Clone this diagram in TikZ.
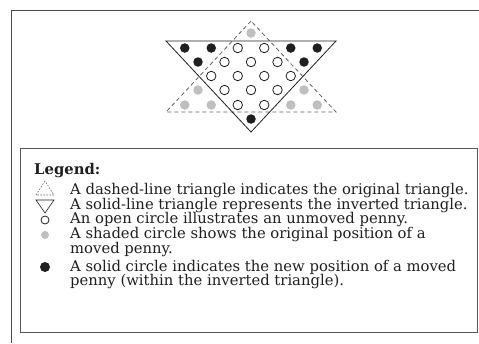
\documentclass[tikz,border=0pt]{standalone}
\usepackage{fontspec}
\setmainfont{DejaVu Serif}
\definecolor{shade}{gray}{0.75}
\definecolor{ink}{gray}{0.12}
\tikzset{
  coin/.style={circle,inner sep=0pt,minimum size=9.5pt},
  open/.style={coin,draw=ink,line width=0.8pt,fill=white},
  gone/.style={coin,fill=shade},
  moved/.style={coin,fill=ink},
  legtext/.style={anchor=west,inner sep=0pt,text=ink,font=\fontsize{14.8}{15}\selectfont}
}
\begin{document}
\begin{tikzpicture}[x=1pt,y=-1pt]
\useasboundingbox (0,0) rectangle (479,343);
% frame
\coordinate (tl) at (11,10);
\coordinate (tr) at (479,10);
\coordinate (bl) at (11,343);
\draw[ink!80,line width=0.9pt] (tr) -- (tl) -- (bl);
% triangles
\coordinate (d1) at (251,21);
\coordinate (d2) at (166,112);
\coordinate (d3) at (336,112);
\coordinate (s1) at (166,41);
\coordinate (s2) at (336,41);
\coordinate (s3) at (251,132);
\draw[ink!70,dashed,dash pattern=on 4pt off 3pt,line width=0.8pt] (d1) -- (d2) -- (d3) -- cycle;
\draw[ink,line width=0.8pt] (s1) -- (s2) -- (s3) -- cycle;
% pennies
\node[gone] (a) at (251,33) {};
\node[moved] (r11) at (184.75,48) {};
\node[moved] (r12) at (211.25,48) {};
\node[open] (r13) at (237.75,48) {};
\node[open] (r14) at (264.25,48) {};
\node[moved] (r15) at (290.75,48) {};
\node[moved] (r16) at (317.25,48) {};
\node[moved] (r21) at (198,62) {};
\node[open] (r22) at (224.5,62) {};
\node[open] (r23) at (251,62) {};
\node[open] (r24) at (277.5,62) {};
\node[moved] (r25) at (304,62) {};
\node[open] (r31) at (211.25,76) {};
\node[open] (r32) at (237.75,76) {};
\node[open] (r33) at (264.25,76) {};
\node[open] (r34) at (290.75,76) {};
\node[gone] (r41) at (198,90) {};
\node[open] (r42) at (224.5,90) {};
\node[open] (r43) at (251,90) {};
\node[open] (r44) at (277.5,90) {};
\node[gone] (r45) at (304,90) {};
\node[gone] (r51) at (184.75,105) {};
\node[gone] (r52) at (211.25,105) {};
\node[open] (r53) at (237.75,105) {};
\node[open] (r54) at (264.25,105) {};
\node[gone] (r55) at (290.75,105) {};
\node[gone] (r56) at (317.25,105) {};
\node[moved] (b) at (251,119) {};
% legend
\coordinate (ltl) at (20,148);
\coordinate (lbr) at (477,332);
\draw[ink!75,line width=0.9pt] (ltl) rectangle (lbr);
\node[legtext,font=\fontsize{14.8}{15}\selectfont\bfseries] (title) at (34,171) {Legend:};
\coordinate (k1a) at (45,181);
\coordinate (k1b) at (36,195);
\coordinate (k1c) at (54,195);
\draw[ink!70,dashed,dash pattern=on 1.5pt off 1.5pt,line width=0.6pt] (k1a) -- (k1b) -- (k1c) -- cycle;
\coordinate (k2a) at (36,200);
\coordinate (k2b) at (54,200);
\coordinate (k2c) at (45,213);
\draw[ink,line width=0.6pt] (k2a) -- (k2b) -- (k2c) -- cycle;
\node[open,minimum size=8pt] (k3) at (45,220) {};
\node[gone,minimum size=8pt] (k4) at (45,235) {};
\node[moved,minimum size=10pt] (k5) at (45,267) {};
\node[legtext] (t1) at (70,191) {A dashed-line triangle indicates the original triangle.};
\node[legtext] (t2) at (70,206) {A solid-line triangle represents the inverted triangle.};
\node[legtext] (t3) at (70,220) {An open circle illustrates an unmoved penny.};
\node[legtext] (t4) at (70,235) {A shaded circle shows the original position of a};
\node[legtext] (t4b) at (70,250) {moved penny.};
\node[legtext] (t5) at (70,267) {A solid circle indicates the new position of a moved};
\node[legtext] (t5b) at (70,282) {penny (within the inverted triangle).};
\end{tikzpicture}
\end{document}
